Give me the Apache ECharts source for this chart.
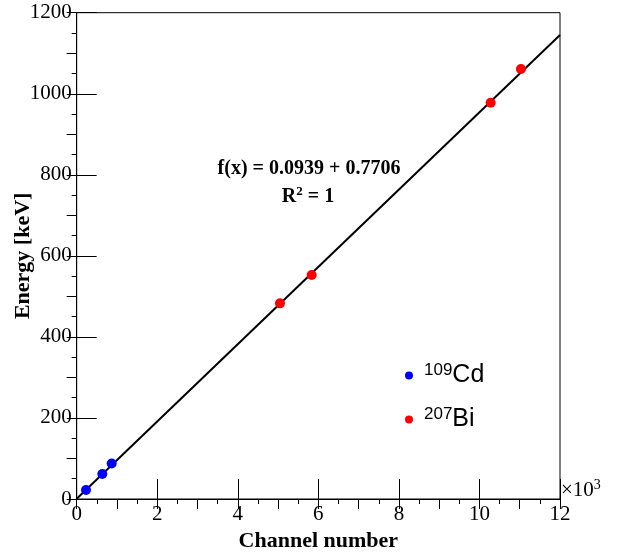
<!DOCTYPE html>
<html>
<head>
<meta charset="utf-8">
<script src="https://cdn.jsdelivr.net/npm/echarts@6/dist/echarts.min.js"></script>
<style>html,body{margin:0;padding:0;background:#fff;}#c{width:622px;height:553px;}</style>
</head>
<body>
<div id="c"></div>
<script>
// Data
var cdChannel = [231, 636, 869];
var cdEnergy = [22.2, 61.7, 87.5];
var biChannel = [5047, 5834, 10278, 11030];
var biEnergy = [482.8, 552.7, 977.8, 1061];
var fitChannel = [0, 12000];
var fitEnergy = [0.8, 1145];
var xTicks = [0, 2, 4, 6, 8, 10, 12];
var yTicks = [0, 200, 400, 600, 800, 1000, 1200];
var fitText = 'f(x) = 0.0939 + 0.7706';
var r2Text = 'R{sup|2} = 1';

function pairs(a, b) { return a.map(function (v, i) { return [v, b[i]]; }); }

var serif = 'Liberation Serif';
var sans = 'Liberation Sans';
var chart = echarts.init(document.getElementById('c'), null, { renderer: 'canvas' });

var grid = { left: 76.7, right: 62, top: 12.7, bottom: 54, show: true, borderColor: '#000', borderWidth: 1, backgroundColor: 'transparent', containLabel: false, outerBoundsMode: 'none' };

chart.setOption({
  animation: false,
  backgroundColor: '#fff',
  grid: grid,
  legend: {
    orient: 'vertical', left: 400, top: 357, itemWidth: 8, itemHeight: 8, itemGap: 18,
    icon: 'circle',
    data: ['Cd', 'Bi'],
    formatter: function (n) { return n === 'Cd' ? '{sup|109}{m|Cd}' : '{sup|207}{m|Bi}'; },
    itemStyle: { opacity: 1 },
    textStyle: {
      color: '#000', fontFamily: sans, padding: [0, 0, 0, 6],
      rich: {
        sup: { fontFamily: sans, fontSize: 17, color: '#000', verticalAlign: 'top', lineHeight: 27, padding: [0, 0, 8, 0] },
        m: { fontFamily: sans, fontSize: 25, color: '#000', lineHeight: 27 }
      }
    }
  },
  xAxis: [{
    type: 'value', min: 0, max: 12000, interval: 2000,
    axisLine: { show: true, onZero: false, lineStyle: { color: '#000', width: 1 } },
    axisTick: { show: true, inside: true, length: 20, lineStyle: { color: '#000', width: 1 } },
    axisLabel: { margin: 5, color: '#000', fontFamily: serif, fontSize: 21, formatter: function (v) { return String(v / 1000); } },
    splitLine: { show: false },
    name: 'Channel number', nameLocation: 'middle', nameGap: 29,
    nameTextStyle: { color: '#000', fontFamily: serif, fontSize: 22, fontWeight: 'bold' }
  }, {
    type: 'value', min: 0, max: 12000, interval: 1000, gridIndex: 0,
    axisLine: { show: false },
    axisTick: { show: true, inside: true, length: 10, lineStyle: { color: '#000', width: 1 } },
    minorTick: { show: true, splitNumber: 2, length: 5, lineStyle: { color: '#000', width: 1 } },
    axisLabel: { show: false }, splitLine: { show: false }
  }],
  yAxis: [{
    type: 'value', min: 0, max: 1200, interval: 200,
    axisLine: { show: true, onZero: false, lineStyle: { color: '#000', width: 1 } },
    axisTick: { show: true, inside: true, length: 20, lineStyle: { color: '#000', width: 1 } },
    axisLabel: { margin: 5, color: '#000', fontFamily: serif, fontSize: 21, formatter: function (v) { return String(v); } },
    splitLine: { show: false },
    name: 'Energy [keV]', nameLocation: 'middle', nameGap: 42, nameMoveOverlap: false,
    nameTextStyle: { color: '#000', fontFamily: serif, fontSize: 22, fontWeight: 'bold' }
  }, {
    type: 'value', min: 0, max: 1200, interval: 100, gridIndex: 0,
    axisLine: { show: false },
    axisTick: { show: true, inside: true, length: 10, lineStyle: { color: '#000', width: 1 } },
    minorTick: { show: true, splitNumber: 2, length: 5, lineStyle: { color: '#000', width: 1 } },
    axisLabel: { show: false }, splitLine: { show: false }
  }],
  series: [{
    name: 'fit', type: 'line', xAxisIndex: 0, yAxisIndex: 0,
    data: pairs(fitChannel, fitEnergy), showSymbol: false, symbol: 'none',
    lineStyle: { color: '#000', width: 2 }, z: 2, silent: true
  }, {
    name: 'Cd', type: 'scatter', xAxisIndex: 0, yAxisIndex: 0,
    data: pairs(cdChannel, cdEnergy), symbol: 'circle', symbolSize: 10,
    itemStyle: { color: '#0000ff', opacity: 1 }, z: 3
  }, {
    name: 'Bi', type: 'scatter', xAxisIndex: 0, yAxisIndex: 0,
    data: pairs(biChannel, biEnergy), symbol: 'circle', symbolSize: 10,
    itemStyle: { color: '#ff0000', opacity: 1 }, z: 3
  }],
  graphic: [{
    type: 'text', x: 309, y: 169,
    style: { text: fitText, fontFamily: serif, fontSize: 20, fontWeight: 'bold', fill: '#000', align: 'center', verticalAlign: 'middle' }
  }, {
    type: 'text', x: 308, y: 197,
    style: {
      text: r2Text, fontFamily: serif, fontSize: 20, fontWeight: 'bold', fill: '#000', align: 'center', verticalAlign: 'middle',
      rich: { sup: { fontFamily: serif, fontSize: 13, fontWeight: 'bold', fill: '#000', verticalAlign: 'top', padding: [0, 0, 10, 0] } }
    }
  }, {
    type: 'text', x: 561, y: 478,
    style: {
      text: '×10{s|3}', fontFamily: serif, fontSize: 21, fill: '#000', align: 'left', verticalAlign: 'top',
      rich: { s: { fontFamily: serif, fontSize: 14, fill: '#000', verticalAlign: 'top', padding: [0, 0, 10, 0] } }
    }
  }]
});
</script>
</body>
</html>
